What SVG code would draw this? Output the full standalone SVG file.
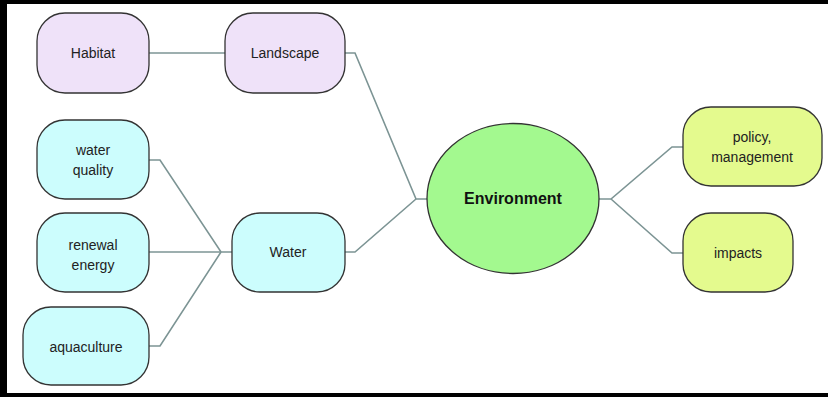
<svg xmlns="http://www.w3.org/2000/svg" width="828" height="397" viewBox="0 0 828 397">
<style>
.n{stroke:#333;stroke-width:1.3}
.lav{fill:#efe2f9}
.cy{fill:#ccfdfd}
.ye{fill:#e4fa8e}
.gr{fill:#a3f98f}
.t{font-family:"Liberation Sans",Arial,sans-serif;font-size:14px;fill:#222;text-anchor:middle;dominant-baseline:central}
.b{font-size:16px;font-weight:bold;fill:#111}
.c{fill:none;stroke:#7c9494;stroke-width:1.6}
</style>
<rect width="828" height="397" fill="#fff"/>
<rect x="0" y="0" width="828" height="4" fill="#000"/>
<rect x="0" y="0" width="7" height="397" fill="#000"/>
<rect x="0" y="393" width="828" height="4" fill="#000"/>
<g id="connectors">
<path class="c" d="M149 53H225"/>
<path class="c" d="M345 53H355L416 199H427"/>
<path class="c" d="M345 252H355L416 199"/>
<path class="c" d="M149 160H160L221 252H232"/>
<path class="c" d="M149 252H221"/>
<path class="c" d="M149 346H160L221 252"/>
<path class="c" d="M599 199H611L672 147H683"/>
<path class="c" d="M611 199L672 253H683"/>
</g>
<g id="habitat"><rect class="n lav" x="37" y="13" width="112" height="80" rx="28"/><text class="t" x="93" y="53">Habitat</text></g>
<g id="landscape"><rect class="n lav" x="225" y="13" width="120" height="80" rx="28"/><text class="t" x="285" y="53">Landscape</text></g>
<g id="water-quality"><rect class="n cy" x="37" y="120" width="112" height="79" rx="28"/><text class="t" x="93" y="150">water</text><text class="t" x="93" y="170">quality</text></g>
<g id="renewal-energy"><rect class="n cy" x="37" y="213" width="112" height="79" rx="28"/><text class="t" x="93" y="245">renewal</text><text class="t" x="93" y="265">energy</text></g>
<g id="aquaculture"><rect class="n cy" x="23" y="307" width="126" height="78" rx="28"/><text class="t" x="86" y="347">aquaculture</text></g>
<g id="water"><rect class="n cy" x="232" y="213" width="113" height="79" rx="28"/><text class="t" x="288" y="252">Water</text></g>
<g id="environment"><ellipse class="n gr" cx="513" cy="198.5" rx="86" ry="75"/><text class="t b" x="513" y="198">Environment</text></g>
<g id="policy"><rect class="n ye" x="683" y="107" width="139" height="79" rx="28"/><text class="t" x="752" y="137">policy,</text><text class="t" x="752" y="157">management</text></g>
<g id="impacts"><rect class="n ye" x="683" y="213" width="110" height="79" rx="28"/><text class="t" x="738" y="253">impacts</text></g>
</svg>
